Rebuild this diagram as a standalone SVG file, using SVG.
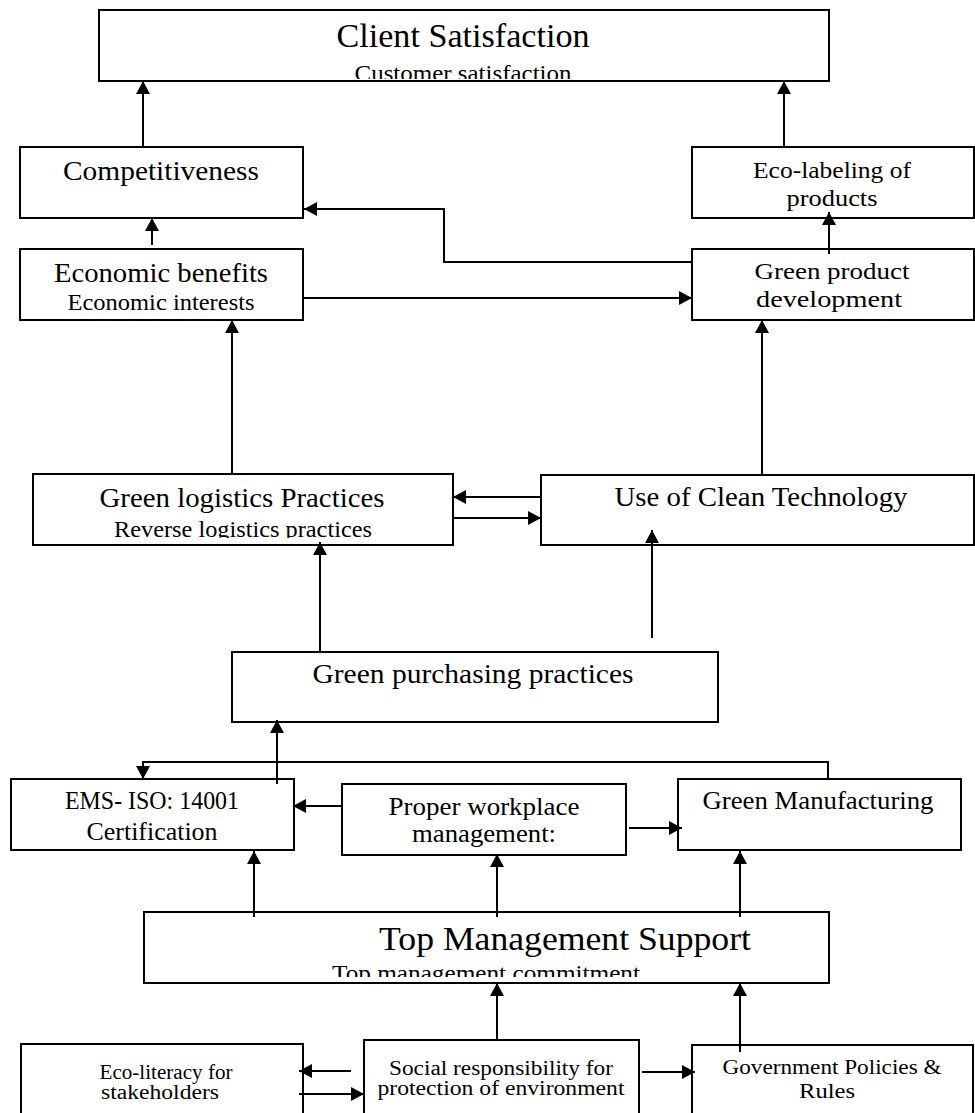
<svg xmlns="http://www.w3.org/2000/svg" width="975" height="1113" viewBox="0 0 975 1113">
<style>
.box{fill:#fff;stroke:#000;stroke-width:2}
.c{fill:none;stroke:#000;stroke-width:2;marker-end:url(#ah)}
text{font-family:"Liberation Serif","Times New Roman",serif;fill:#000;text-anchor:middle}
.t31{font-size:33px}.t25{font-size:28px}.t23{font-size:25px}.t21{font-size:23px}.t18{font-size:20px}
</style>
<defs>
<marker id="ah" markerUnits="userSpaceOnUse" markerWidth="14" markerHeight="14" refX="13" refY="7" orient="auto" viewBox="0 0 14 14">
<path d="M0,0 L13,7 L0,14 z" fill="#000"/>
</marker>
<clipPath id="clipClient"><rect x="99" y="10" width="730" height="69"/></clipPath>
<clipPath id="clipLog"><rect x="33" y="474" width="420" height="64"/></clipPath>
<clipPath id="clipTop"><rect x="144" y="912" width="685" height="65"/></clipPath>
</defs>

<g id="client-satisfaction">
<rect class="box" x="99" y="10" width="730" height="71"/>
<text class="t31" x="463" y="47" textLength="253" lengthAdjust="spacingAndGlyphs">Client Satisfaction</text>
<text class="t21" x="463" y="81" textLength="217" lengthAdjust="spacingAndGlyphs" clip-path="url(#clipClient)">Customer satisfaction</text>
</g>
<g id="competitiveness">
<rect class="box" x="20" y="147" width="283" height="71"/>
<text class="t25" x="161" y="180" textLength="196" lengthAdjust="spacingAndGlyphs">Competitiveness</text>
</g>
<g id="eco-labeling">
<rect class="box" x="692" y="147" width="282" height="71"/>
<text class="t21" x="832" y="178" textLength="158" lengthAdjust="spacingAndGlyphs">Eco-labeling of</text>
<text class="t21" x="832" y="206" textLength="91" lengthAdjust="spacingAndGlyphs">products</text>
</g>
<g id="economic-benefits">
<rect class="box" x="20" y="249" width="283" height="71"/>
<text class="t25" x="161" y="282" textLength="214" lengthAdjust="spacingAndGlyphs">Economic benefits</text>
<text class="t21" x="161" y="310" textLength="187" lengthAdjust="spacingAndGlyphs">Economic interests</text>
</g>
<g id="green-product-development">
<rect class="box" x="692" y="249" width="282" height="71"/>
<text class="t21" x="832" y="279" textLength="155" lengthAdjust="spacingAndGlyphs">Green product</text>
<text class="t21" x="829" y="307" textLength="146" lengthAdjust="spacingAndGlyphs">development</text>
</g>
<g id="green-logistics">
<rect class="box" x="33" y="474" width="420" height="71"/>
<text class="t25" x="242" y="507" textLength="285" lengthAdjust="spacingAndGlyphs">Green logistics Practices</text>
<text class="t21" x="243" y="537" textLength="258" lengthAdjust="spacingAndGlyphs" clip-path="url(#clipLog)">Reverse logistics practices</text>
</g>
<g id="clean-technology">
<rect class="box" x="541" y="475" width="433" height="70"/>
<text class="t25" x="761" y="506" textLength="293" lengthAdjust="spacingAndGlyphs">Use of Clean Technology</text>
</g>
<g id="green-purchasing">
<rect class="box" x="232" y="652" width="486" height="70"/>
<text class="t25" x="473" y="683" textLength="321" lengthAdjust="spacingAndGlyphs">Green purchasing practices</text>
</g>
<g id="ems-iso">
<rect class="box" x="11" y="779" width="283" height="71"/>
<text class="t23" x="152" y="809" textLength="174" lengthAdjust="spacingAndGlyphs">EMS- ISO: 14001</text>
<text class="t23" x="152" y="840" textLength="131" lengthAdjust="spacingAndGlyphs">Certification</text>
</g>
<g id="proper-workplace">
<rect class="box" x="342" y="784" width="284" height="71"/>
<text class="t23" x="484" y="815" textLength="191" lengthAdjust="spacingAndGlyphs">Proper workplace</text>
<text class="t23" x="484" y="842" textLength="144" lengthAdjust="spacingAndGlyphs">management:</text>
</g>
<g id="green-manufacturing">
<rect class="box" x="678" y="779" width="283" height="71"/>
<text class="t23" x="818" y="809" textLength="231" lengthAdjust="spacingAndGlyphs">Green Manufacturing</text>
</g>
<g id="top-management">
<rect class="box" x="144" y="912" width="685" height="71"/>
<text class="t31" x="565" y="950" textLength="372" lengthAdjust="spacingAndGlyphs">Top Management Support</text>
<text class="t21" x="486" y="981" textLength="308" lengthAdjust="spacingAndGlyphs" clip-path="url(#clipTop)">Top management commitment</text>
</g>
<g id="eco-literacy">
<rect class="box" x="21" y="1044" width="282" height="80"/>
<text class="t18" x="166" y="1079" textLength="133" lengthAdjust="spacingAndGlyphs">Eco-literacy for</text>
<text class="t18" x="160" y="1099" textLength="118" lengthAdjust="spacingAndGlyphs">stakeholders</text>
</g>
<g id="social-responsibility">
<rect class="box" x="364" y="1040" width="275" height="84"/>
<text class="t18" x="501" y="1075" textLength="224" lengthAdjust="spacingAndGlyphs">Social responsibility for</text>
<text class="t18" x="501" y="1095" textLength="247" lengthAdjust="spacingAndGlyphs">protection of environment</text>
</g>
<g id="government-policies">
<rect class="box" x="692" y="1045" width="281" height="79"/>
<text class="t18" x="832" y="1074" textLength="219" lengthAdjust="spacingAndGlyphs">Government Policies &amp;</text>
<text class="t18" x="827" y="1098" textLength="56" lengthAdjust="spacingAndGlyphs">Rules</text>
</g>

<g id="connectors">
<path class="c" d="M143,147 V81"/>
<path class="c" d="M784,147 V81"/>
<path class="c" d="M152,245 V218"/>
<path class="c" d="M829,254 V212"/>
<path class="c" d="M303,298 H692"/>
<path class="c" d="M692,262 H444 V209 H304"/>
<path class="c" d="M232,474 V320"/>
<path class="c" d="M762,475 V320"/>
<path class="c" d="M541,497 H453"/>
<path class="c" d="M453,518 H541"/>
<path class="c" d="M320,652 V542"/>
<path class="c" d="M652,638 V530"/>
<path class="c" d="M277,784 V720"/>
<path class="c" d="M828,779 V762 H143 V779"/>
<path class="c" d="M342,806 H293"/>
<path class="c" d="M629,828 H682"/>
<path class="c" d="M254,917 V851"/>
<path class="c" d="M497,917 V854"/>
<path class="c" d="M740,917 V851"/>
<path class="c" d="M497,1040 V983"/>
<path class="c" d="M740,1052 V983"/>
<path class="c" d="M351,1071 H299"/>
<path class="c" d="M299,1094 H364"/>
<path class="c" d="M642,1072 H695"/>
</g>
</svg>
